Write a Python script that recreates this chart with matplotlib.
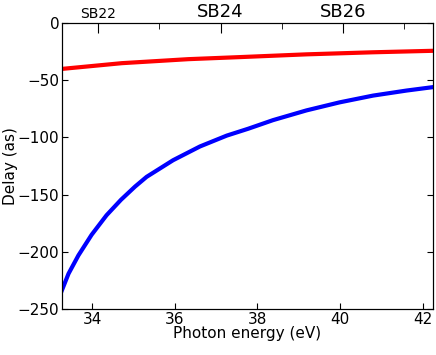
import numpy as np
import matplotlib.pyplot as plt

# photon energy (eV) and delays (as)
energy_blue = [33.27, 33.43, 33.67, 33.99, 34.35, 34.70, 35.04, 35.32, 35.96, 36.61,
               37.26, 37.78, 38.38, 39.19, 39.99, 40.80, 41.61, 42.25]
delay_blue = [-233.5, -219.0, -203.0, -185.0, -168.0, -154.5, -143.0, -134.5, -120.0, -108.0,
              -98.5, -92.5, -85.0, -76.5, -69.5, -63.6, -59.2, -56.2]

energy_red = [33.27, 34.72, 36.33, 37.58, 39.19, 40.80, 42.25]
delay_red = [-40.3, -35.3, -31.8, -30.0, -27.6, -25.8, -24.5]

# sideband positions on the top axis
sb_major = [34.15, 37.11, 40.07]
sb_major_labels = ['SB22', 'SB24', 'SB26']
sb_minor = [35.63, 38.59, 41.55]

fig = plt.figure(figsize=(4.36, 3.55), dpi=100)
ax = fig.add_axes([0.142, 0.129, 0.851, 0.807])

ax.plot(energy_red, delay_red, color='red', lw=3)
ax.plot(energy_blue, delay_blue, color='blue', lw=3)

ax.set_xlim(33.27, 42.25)
ax.set_ylim(-250, 0)
ax.set_xticks([34, 36, 38, 40, 42])
ax.set_yticks([-250, -200, -150, -100, -50, 0])
ax.tick_params(direction='in', length=4, labelsize=11, right=True, pad=2)
ax.set_xlabel('Photon energy (eV)', fontsize=11, labelpad=-1)
ax.set_ylabel('Delay (as)', fontsize=11, labelpad=0)

top = ax.twiny()
top.set_xlim(ax.get_xlim())
top.set_xticks(sb_major)
top.set_xticklabels(sb_major_labels)
top.set_xticks(sb_minor, minor=True)
top.tick_params(which='major', direction='in', length=7, pad=1, labelsize=13)
top.tick_params(which='minor', direction='in', length=4)
labs = top.get_xticklabels()
labs[0].set_fontsize(10)

fig.savefig('out.png', dpi=100)
